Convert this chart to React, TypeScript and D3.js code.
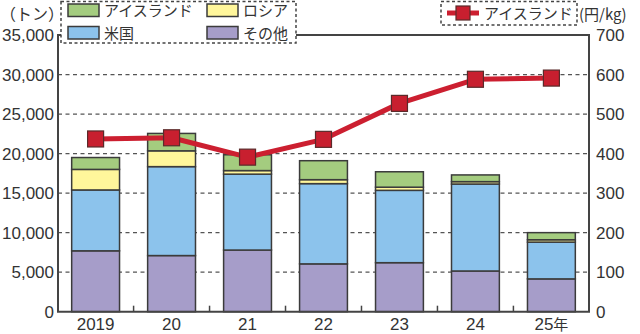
import React from "react";
import * as d3 from "d3";

const categories = ["2019", "20", "21", "22", "23", "24", "25年"];
const other = [7700, 7100, 7800, 6050, 6200, 5150, 4150];
const usa = [7700, 11250, 9600, 10150, 9150, 11000, 4650];
const russia = [2600, 2000, 450, 500, 400, 300, 300];
const iceland = [1500, 2200, 2000, 2400, 1950, 850, 900];
const icelandPrice = [437, 440, 391, 436, 527, 588, 591];
const leftTicks = [0, 5000, 10000, 15000, 20000, 25000, 30000, 35000];
const rightTicks = [0, 100, 200, 300, 400, 500, 600, 700];

const seriesNames = ["その他", "米国", "ロシア", "アイスランド"];
const seriesColors = ["#a69dc9", "#8cc3ec", "#fff69b", "#a4cc7f"];

const W = 640, H = 334;
const L = 58, R = 589, T = 35, B = 311.7;
const FONT = "'Liberation Sans', 'Noto Sans CJK JP', sans-serif";
const JFONT = "'Noto Sans CJK JP', sans-serif";

export default function App() {
  const x = d3.scaleBand<string>().domain(categories).range([L, R]).paddingInner(0.37).paddingOuter(0.18);
  const y = d3.scaleLinear().domain([0, 35000]).range([B, T]);
  const y2 = d3.scaleLinear().domain([0, 700]).range([B, T]);
  const rows = categories.map((c, i) => ({ c, 0: other[i], 1: usa[i], 2: russia[i], 3: iceland[i] }));
  const stack = d3.stack<any>().keys([0, 1, 2, 3] as any)(rows);
  const bw = x.bandwidth();
  const step = x.step();
  const line = d3.line<number>().x((_, i) => x(categories[i])! + bw / 2).y((d) => y2(d));
  const boundaries = categories.slice(0, -1).map((c) => x(c)! + bw + (step - bw) / 2);

  return (
    <div style={{ position: "absolute", left: 0, top: 0 }}>
      <svg width={W} height={H} style={{ display: "block", background: "#fff" }}>
        {/* grid */}
        {leftTicks.slice(1, -1).map((t) => (
          <line key={t} x1={L} x2={R} y1={y(t)} y2={y(t)} stroke="#555" strokeWidth={1.2} strokeDasharray="4 3.5" />
        ))}
        {/* bars */}
        {stack.map((s, si) =>
          s.map((d, i) => (
            <rect key={si + "-" + i} x={x(categories[i])} y={y(d[1])} width={bw} height={y(d[0]) - y(d[1])}
              fill={seriesColors[si]} stroke="#3b3b3b" strokeWidth={1.5} />
          ))
        )}
        {/* frame */}
        <path d={`M${L},${T}V${B}H${R}V${T}Z`} fill="none" stroke="#444" strokeWidth={2} />
        {boundaries.map((b, i) => (
          <line key={i} x1={b} x2={b} y1={B} y2={B - 6} stroke="#444" strokeWidth={1.5} />
        ))}
        {/* line */}
        <path d={line(icelandPrice)!} fill="none" stroke="#cc1f30" strokeWidth={5} strokeLinejoin="round" />
        {icelandPrice.map((v, i) => (
          <rect key={i} x={x(categories[i])! + bw / 2 - 8} y={y2(v) - 8} width={16} height={16}
            fill="#c81f2f" stroke="#5a2a2a" strokeWidth={1.2} />
        ))}
        {/* left ticks */}
        {leftTicks.map((t) => (
          <text key={t} x={54} y={y(t) + 6} textAnchor="end" fontFamily={FONT} fontSize={17} fill="#333">
            {d3.format(",")(t)}
          </text>
        ))}
        {rightTicks.map((t) => (
          <text key={t} x={596} y={y2(t) + 6} fontFamily={FONT} fontSize={17} fill="#333">
            {t}
          </text>
        ))}
        {categories.map((c) => (
          <text key={c} x={x(c)! + bw / 2} y={330} textAnchor="middle" fontFamily={FONT} fontSize={17} fill="#333">
            {c.replace("年", "")}
            {c.includes("年") && <tspan fontFamily={JFONT} fontSize={15}>年</tspan>}
          </text>
        ))}
        {/* unit labels */}
        <text x={0} y={20} fontFamily={JFONT} fontSize={16} fill="#333">（トン）</text>
        <text x={579} y={20} fontFamily={JFONT} fontSize={15} fill="#333">(円/kg)</text>
        {/* legend 1 */}
        <rect x={61} y={1.5} width={235} height={41.5} fill="#fff" stroke="#444" strokeWidth={1.5} strokeDasharray="3 2.5" />
        {[[3, 68, 4], [2, 207, 4], [1, 68, 26.5], [0, 207, 26.5]].map(([si, lx, ly]) => (
          <g key={si}>
            <rect x={lx} y={ly} width={31} height={12.5} fill={seriesColors[si]} stroke="#3b3b3b" strokeWidth={1.5} />
            <text x={lx + 36} y={ly + 12} fontFamily={JFONT} fontSize={15} fill="#333">{seriesNames[si]}</text>
          </g>
        ))}
        {/* legend 2 */}
        <rect x={441} y={1.5} width={136} height={23.5} fill="#fff" stroke="#444" strokeWidth={1.5} strokeDasharray="3 2.5" />
        <line x1={447} x2={479} y1={13} y2={13} stroke="#cc1f30" strokeWidth={5} />
        <rect x={456} y={6} width={14} height={14} fill="#c81f2f" stroke="#5a2a2a" strokeWidth={1.2} />
        <text x={484} y={19} fontFamily={JFONT} fontSize={15} fill="#333">アイスランド</text>
      </svg>
    </div>
  );
}
